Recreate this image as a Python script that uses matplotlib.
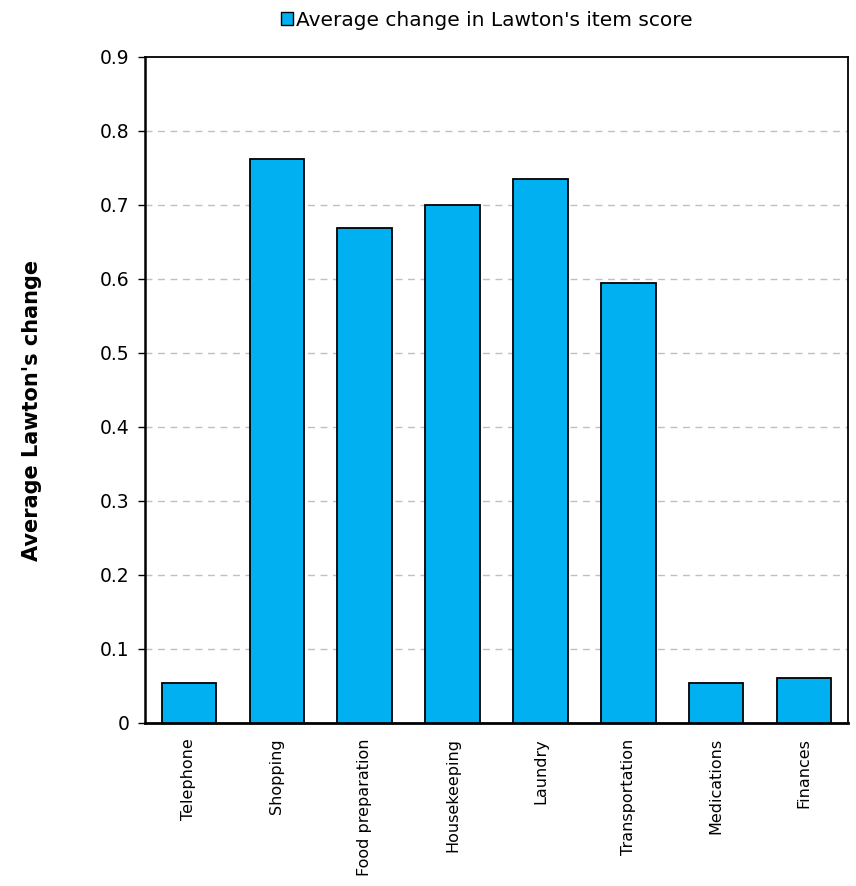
import matplotlib
matplotlib.use("Agg")
import matplotlib.pyplot as plt
from matplotlib.patches import Patch

categories = ["Telephone", "Shopping", "Food preparation", "Housekeeping",
              "Laundry", "Transportation", "Medications", "Finances"]
values = [0.054, 0.762, 0.669, 0.700, 0.735, 0.595, 0.054, 0.061]
yticks = [0, 0.1, 0.2, 0.3, 0.4, 0.5, 0.6, 0.7, 0.8, 0.9]
ytick_labels = ["0", "0.1", "0.2", "0.3", "0.4", "0.5", "0.6", "0.7", "0.8", "0.9"]
series_name = "Average change in Lawton's item score"
ylabel = "Average Lawton's change"

bar_color = "#00B0F0"

fig = plt.figure(figsize=(8.56, 8.86), dpi=100)
ax = fig.add_axes([145/856, 1-723/886, (848-145)/856, (723-57)/886])

x = list(range(len(categories)))
ax.bar(x, values, width=0.62, color=bar_color, edgecolor="black", linewidth=1.3, zorder=3)

ax.set_xlim(-0.5, len(categories) - 0.5)
ax.set_ylim(0, 0.9)
ax.set_yticks(yticks)
ax.set_yticklabels(ytick_labels, fontsize=13.5)
ax.set_xticks(x)
ax.set_xticklabels(categories, rotation=90, fontsize=11.5)
ax.tick_params(axis="x", length=0, pad=11)
ax.tick_params(axis="y", length=5, width=1, direction="out", pad=6)

for y in yticks[1:-1]:
    ax.axhline(y, color="#c0c0c0", linestyle=(0, (5, 4)), linewidth=1.0, zorder=1)

for s in ax.spines.values():
    s.set_color("black")
    s.set_linewidth(1.3)
ax.spines["bottom"].set_linewidth(2.0)
ax.spines["left"].set_linewidth(1.8)

ax.set_ylabel(ylabel, fontsize=15, fontweight="bold")
ax.yaxis.set_label_coords((42 - 145) / 703, 0.47)

handle = Patch(facecolor=bar_color, edgecolor="black", linewidth=1.0)
fig.legend([handle], [series_name], loc="center", bbox_to_anchor=(487/856, 1-20/886),
           frameon=False, fontsize=14.5, handlelength=0.6, handleheight=0.6,
           handletextpad=0.15)

fig.savefig("out.png", dpi=100)
